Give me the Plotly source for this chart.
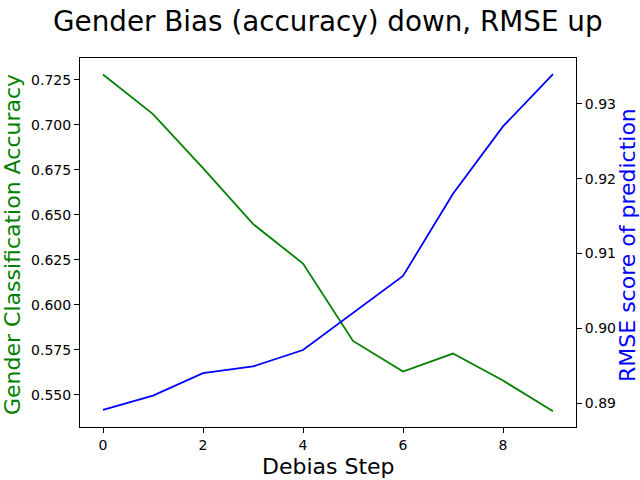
import plotly.graph_objects as go

steps = list(range(10))
accuracy = [0.728, 0.706, 0.676, 0.645, 0.623, 0.580, 0.563, 0.573, 0.558, 0.541]
rmse = [0.8891, 0.8910, 0.8940, 0.8949, 0.8971, 0.9021, 0.9070, 0.9180, 0.9270, 0.9340]

x_ticks = [0, 2, 4, 6, 8]
acc_ticks = [0.550, 0.575, 0.600, 0.625, 0.650, 0.675, 0.700, 0.725]
rmse_ticks = [0.89, 0.90, 0.91, 0.92, 0.93]

FONT = "DejaVu Sans"

fig = go.Figure()
fig.add_trace(go.Scatter(x=steps, y=accuracy, mode="lines",
                         line=dict(color="green", width=1.8), yaxis="y"))
fig.add_trace(go.Scatter(x=steps, y=rmse, mode="lines",
                         line=dict(color="blue", width=1.8), yaxis="y2"))

axis_common = dict(showgrid=False, zeroline=False, showline=True, linecolor="black",
                   linewidth=1, ticks="outside", ticklen=5, tickcolor="black",
                   automargin=False,
                   tickfont=dict(size=14, color="black", family=FONT))

# plot area in pixels: left 80, right 576, top 58, bottom 427
fig.update_layout(
    width=640, height=480,
    margin=dict(l=80, r=64, t=58, b=53, autoexpand=False),
    paper_bgcolor="white", plot_bgcolor="white",
    showlegend=False,
    font=dict(family=FONT, color="black"),
    xaxis=dict(axis_common, range=[-0.46, 9.46], tickvals=x_ticks, mirror=True),
    yaxis=dict(axis_common, range=[0.5322, 0.7372], tickvals=acc_ticks, tickformat=".3f"),
    yaxis2=dict(axis_common, range=[0.8868, 0.93615], tickvals=rmse_ticks, tickformat=".2f",
                overlaying="y", side="right"),
    annotations=[
        dict(text="Gender Bias (accuracy) down, RMSE up", xref="paper", yref="paper",
             x=0.5, y=(427 - 22) / 369, xanchor="center", yanchor="middle", showarrow=False,
             font=dict(size=27.8, family=FONT, color="black")),
        dict(text="Debias Step", xref="paper", yref="paper",
             x=0.5, y=(427 - 466) / 369, xanchor="center", yanchor="middle", showarrow=False,
             font=dict(size=22, family=FONT, color="black")),
        dict(text="Gender Classification Accuracy", xref="paper", yref="paper",
             x=(12 - 80) / 496, y=(427 - 245) / 369, xanchor="center", yanchor="middle",
             showarrow=False, textangle=-90, font=dict(size=22, family=FONT, color="green")),
        dict(text="RMSE score of prediction", xref="paper", yref="paper",
             x=(627 - 80) / 496, y=(427 - 245) / 369, xanchor="center", yanchor="middle",
             showarrow=False, textangle=-90, font=dict(size=22, family=FONT, color="blue")),
    ],
)

# drop the page's default body margin so the 640x480 figure fills the window
fig.write_html("out.html", config={"displayModeBar": False},
               post_script="document.body.style.margin = '0';")
